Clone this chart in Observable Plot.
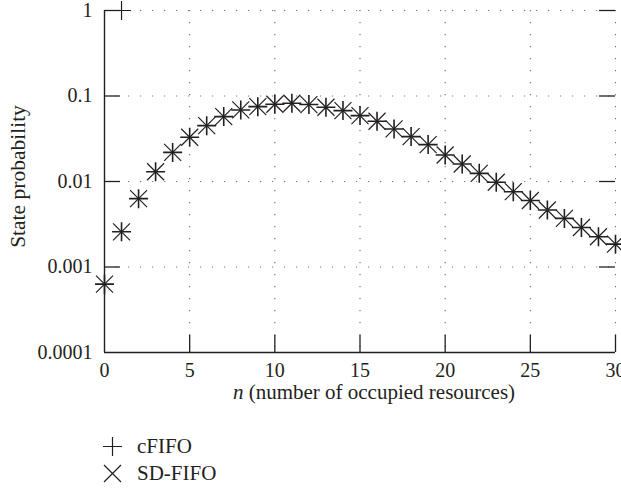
<!DOCTYPE html>
<html><head><meta charset="utf-8">
<script src="https://cdn.jsdelivr.net/npm/d3@7"></script>
<script src="https://cdn.jsdelivr.net/npm/@observablehq/plot@0.6"></script>
<style>
body{margin:0;background:#fff;font-family:"Liberation Serif",serif;color:#231f20}
#legend{padding-top:13px}
.row{display:flex;align-items:center;height:27px;font-size:21px;line-height:27px}
.row svg{margin-left:102px;margin-right:14px;display:block}
</style></head><body>
<div id="chart"></div><div id="legend"></div>
<script>
const nValues = [0,1,2,3,4,5,6,7,8,9,10,11,12,13,14,15,16,17,18,19,20,21,22,23,24,25,26,27,28,29,30];
const sdFifo = [0.00063,0.00258,0.0063,0.0130,0.0219,0.0329,0.0450,0.0574,0.0687,0.0751,0.0800,0.0822,0.0794,0.0738,0.0675,0.0590,0.0506,0.0412,0.0335,0.0270,0.0204,0.0160,0.01245,0.0098,0.0076,0.0060,0.00464,0.0037,0.0029,0.00226,0.00185];
const cFifo = [0.00063,0.00258,0.0063,0.0130,0.0219,0.0329,0.0450,0.0574,0.0687,0.0751,0.0800,0.0822,0.0794,0.0738,0.0675,0.0590,0.0506,0.0412,0.0335,0.0270,0.0204,0.0160,0.01245,0.0098,0.0076,0.0060,0.00464,0.0037,0.0029,0.00226,0.00185];
const cFifoExtraN = [1];
const cFifoExtraP = [1];
const xTicks = [0,5,10,15,20,25,30];
const yTicks = [0.0001,0.001,0.01,0.1,1];
const yTickLabels = ["0.0001","0.001","0.01","0.1","1"];
const seriesNames = ["cFIFO","SD-FIFO"];
const xTitle = "n (number of occupied resources)";
const yTitle = "State probability";

const ink = "#231f20";
const plusSym = {draw(ctx, size){const r=Math.sqrt(size/Math.PI); ctx.moveTo(-r,0);ctx.lineTo(r,0);ctx.moveTo(0,-r);ctx.lineTo(0,r);}};
const timesSym = {draw(ctx, size){const r=Math.sqrt(size/Math.PI); ctx.moveTo(-r,-r);ctx.lineTo(r,r);ctx.moveTo(-r,r);ctx.lineTo(r,-r);}};

const sdRows = nValues.map((n,i)=>({n, p: sdFifo[i]}));
const cRows = nValues.map((n,i)=>({n, p: cFifo[i]}));
const cExtra = cFifoExtraN.map((n,i)=>({n, p: cFifoExtraP[i]}));

const W = 621, H = 420, mL = 104, mR = 6, mT = 10, mB = 68;
const pw = W - mL - mR, ph = H - mT - mB;
const gridStyle = {stroke:"#777", strokeOpacity:1, strokeWidth:1.2, strokeDasharray:"1.2,10.8"};

const chart = Plot.plot({
  width: W, height: H,
  marginLeft: mL, marginRight: mR, marginTop: mT, marginBottom: mB,
  style: {fontFamily: "Liberation Serif, serif", fontSize: "20px", color: ink, background: "#fff"},
  x: {domain: [0,30]},
  y: {type: "log", domain: [1e-4, 1]},
  marks: [
    Plot.gridX(xTicks.slice(1), gridStyle),
    Plot.gridY(yTicks.slice(1), gridStyle),
    Plot.tickX(xTicks.slice(1), {x: d=>d, insetTop: ph-17, stroke: ink, strokeWidth: 1.3}),
    Plot.tickY(yTicks.slice(1), {y: d=>d, insetRight: pw-16, stroke: ink, strokeWidth: 1.3}),
    Plot.tickY(yTicks.slice(1), {y: d=>d, insetLeft: pw-16, stroke: ink, strokeWidth: 1.3}),
    Plot.ruleX([0], {stroke: ink, strokeWidth: 1.4}),
    Plot.ruleY([1e-4], {stroke: ink, strokeWidth: 1.4}),
    Plot.axisX(xTicks, {tickSize: 0, tickPadding: 10, fontSize: 20, label: null, fill: ink}),
    Plot.axisY(yTicks, {tickSize: 0, tickPadding: 12, fontSize: 20, label: null, fill: ink, tickFormat: d => yTickLabels[yTicks.indexOf(d)]}),
    Plot.dot(sdRows, {x: "n", y: "p", symbol: timesSym, r: 8.5, fill: "none", stroke: ink, strokeWidth: 1.2}),
    Plot.dot(cRows, {x: "n", y: "p", symbol: plusSym, r: 9.5, fill: "none", stroke: ink, strokeWidth: 1.6}),
    Plot.dot(cExtra, {x: "n", y: "p", symbol: plusSym, r: 9.5, fill: "none", stroke: ink, strokeWidth: 1.2}),
    Plot.text([xTitle], {text: d=>d, frameAnchor: "bottom", textAnchor: "middle", dx: 14, dy: 46, fontSize: 21, fill: ink}),
    Plot.text([yTitle], {text: d=>d, frameAnchor: "left", textAnchor: "middle", dx: -86, dy: -5, rotate: -90, fontSize: 21.5, fill: ink})
  ]
});
document.getElementById("chart").appendChild(chart);

// italic "n" in x title
chart.querySelectorAll("text").forEach(t => {
  if (t.textContent === xTitle) {
    t.textContent = "";
    const ns = "http://www.w3.org/2000/svg";
    const a = document.createElementNS(ns, "tspan"); a.setAttribute("font-style","italic"); a.textContent = xTitle.slice(0,1);
    const b = document.createElementNS(ns, "tspan"); b.textContent = xTitle.slice(1);
    t.appendChild(a); t.appendChild(b);
  }
});

// legend
const legend = document.getElementById("legend");
const symPaths = ["M-9.5,0L9.5,0M0,-9.5L0,9.5", "M-8.5,-8.5L8.5,8.5M-8.5,8.5L8.5,-8.5"];
seriesNames.forEach((name, i) => {
  const row = document.createElement("div"); row.className = "row";
  row.innerHTML = `<svg width="21" height="21" viewBox="-10.5 -10.5 21 21"><path d="${symPaths[i]}" stroke="${ink}" stroke-width="1.2" fill="none"/></svg><span>${name}</span>`;
  legend.appendChild(row);
});
</script>
</body></html>
